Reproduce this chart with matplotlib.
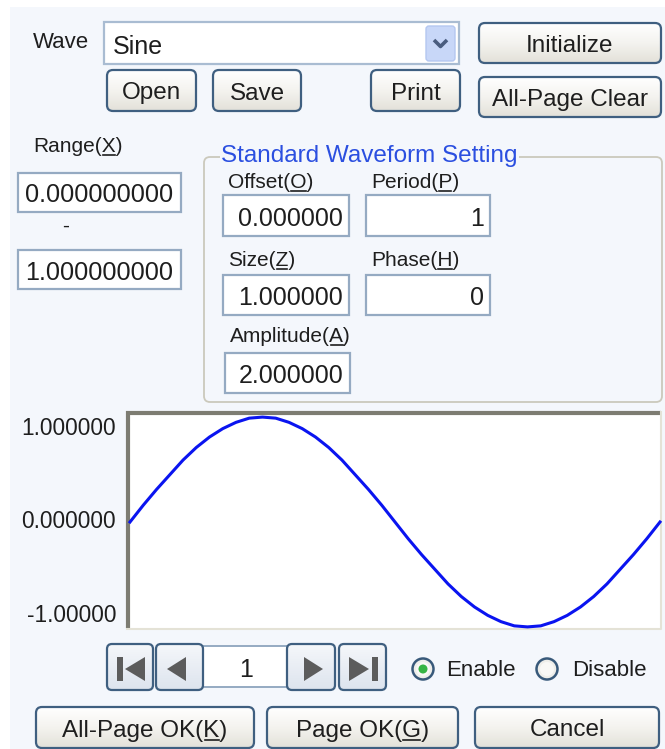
import numpy as np
import matplotlib.pyplot as plt
from matplotlib.patches import FancyBboxPatch, Rectangle, Circle, Polygon
from matplotlib.colors import LinearSegmentedColormap

W, H = 665, 749
FONT = ['Liberation Sans', 'DejaVu Sans']

# ---- dialog contents ----
wave_name = "Sine"
file_buttons = ["Open", "Save", "Print"]
side_buttons = ["Initialize", "All-Page Clear"]
range_label = "Range(X)"
range_values = ["0.000000000", "1.000000000"]
group_title = "Standard Waveform Setting"
field_labels = ["Offset(O)", "Period(P)", "Size(Z)", "Phase(H)", "Amplitude(A)"]
field_values = ["0.000000", "1", "1.000000", "0", "2.000000"]
y_ticks = [1.0, 0.0, -1.0]
y_tick_labels = ["1.000000", "0.000000", "-1.00000"]
wave_y = [0.0, 0.16, 0.31, 0.45, 0.59, 0.71, 0.81, 0.89, 0.95, 0.99,
          1.0, 0.99, 0.95, 0.89, 0.81, 0.71, 0.59, 0.45, 0.31, 0.16,
          0.0, -0.16, -0.31, -0.45, -0.59, -0.71, -0.81, -0.89, -0.95, -0.99,
          -1.0, -0.99, -0.95, -0.89, -0.81, -0.71, -0.59, -0.45, -0.31, -0.16,
          0.0]
wave_x = np.linspace(0.0, 1.0, len(wave_y))
page_number = "1"
radio_labels = ["Enable", "Disable"]
bottom_buttons = ["All-Page OK(K)", "Page OK(G)", "Cancel"]

BG = '#F4F7FC'
TXT = '#1E1E1E'
BOX_EDGE = '#95AAC2'
btn_cmap = LinearSegmentedColormap.from_list('btn', ['#FFFFFF', '#F4F3EF', '#E3E1D9'])
nav_cmap = LinearSegmentedColormap.from_list('nav', ['#F5F7FA', '#DDE4EE'])

fig = plt.figure(figsize=(W / 100, H / 100), dpi=100)
ax = fig.add_axes([0, 0, 1, 1])
ax.axis('off')
ax.set_xlim(0, W)
ax.set_ylim(H, 0)
r = fig.canvas.get_renderer()

ax.add_patch(Rectangle((10, 7), W - 10, H - 7, fc=BG, ec='none', zorder=0))


def label(x, y, s, ha='left', va='center', fs=15, color=TXT, **kw):
    t = ax.text(x, y, s, ha=ha, va=va, fontsize=fs, color=color, family=FONT, zorder=6, **kw)
    # underline the access key, e.g. the X in Range(X)
    if s.endswith(')') and '(' in s:
        i = s.rindex('(') + 1
        bb = t.get_window_extent(r)
        a = ax.text(0, 0, s[:i], fontsize=fs, family=FONT)
        b = ax.text(0, 0, s[:i + 1], fontsize=fs, family=FONT)
        w0 = a.get_window_extent(r).width
        w1 = b.get_window_extent(r).width
        a.remove()
        b.remove()
        uy = H - bb.y0 - 2
        ax.plot([bb.x0 + w0 + 1, bb.x0 + w1 - 1], [uy, uy], color=color, lw=1.2, zorder=6)
    return t


def gradient_box(x0, y0, x1, y1, cmap, ec, rs=6, lw=1.6):
    p = FancyBboxPatch((x0, y0), x1 - x0, y1 - y0, boxstyle=f"round,pad=0,rounding_size={rs}",
                       fc='none', ec='none', zorder=3)
    ax.add_patch(p)
    im = ax.imshow(np.linspace(0, 1, 64).reshape(-1, 1), cmap=cmap, extent=(x0, x1, y1, y0),
                   aspect='auto', zorder=3.1, origin='upper')
    im.set_clip_path(p)
    ax.add_patch(FancyBboxPatch((x0, y0), x1 - x0, y1 - y0, boxstyle=f"round,pad=0,rounding_size={rs}",
                                fc='none', ec=ec, lw=lw, zorder=3.2))


def button(x0, y0, x1, y1, s, fs=17.5):
    gradient_box(x0, y0, x1, y1, btn_cmap, '#3F5F80')
    label((x0 + x1) / 2, (y0 + y1) / 2 + 3, s, ha='center', fs=fs)


def textbox(x0, y0, x1, y1, s, ha='right', fs=18):
    ax.add_patch(Rectangle((x0, y0), x1 - x0, y1 - y0, fc='white', ec=BOX_EDGE, lw=1.6, zorder=2))
    if ha == 'right':
        label(x1 - 6, (y0 + y1) / 2 + 3, s, ha='right', fs=fs)
    else:
        label((x0 + x1) / 2, (y0 + y1) / 2 + 3, s, ha='center', fs=fs)


# ---- top row ----
label(33, 42, "Wave", fs=16)
ax.add_patch(Rectangle((104, 22), 355, 42, fc='white', ec='#A9BCD2', lw=1.6, zorder=2))
ax.add_patch(FancyBboxPatch((426, 26), 29, 35, boxstyle="round,pad=0,rounding_size=3",
                            fc='#C8D7F8', ec='#B4C7F0', lw=1, zorder=3))
ax.plot([434, 440.5, 447], [40, 46.5, 40], color='#4A5D80', lw=2.6, solid_capstyle='butt', zorder=4)
label(113, 47, wave_name, fs=18)

for (x0, x1), s in zip([(107, 196), (213, 301), (371, 460)], file_buttons):
    button(x0, 70, x1, 111, s)
button(479, 23, 661, 63, side_buttons[0])
button(479, 77, 661, 117, side_buttons[1])

# ---- range ----
label(33, 147, range_label, fs=15)
textbox(18, 173, 181, 212, range_values[0], ha='center', fs=18.2)
label(66, 226, "-", ha='center', fs=15)
textbox(18, 250, 181, 289, range_values[1], ha='center', fs=18.2)

# ---- standard waveform group ----
ax.add_patch(FancyBboxPatch((204, 157), 458, 245, boxstyle="round,pad=0,rounding_size=6",
                            fc='none', ec='#CBC9BC', lw=1.3, zorder=2))
label(221, 156, group_title, fs=17.5, color='#2B4FE0',
      bbox=dict(fc=BG, ec='none', pad=1))

field_pos = [(223, 349, 183, 195, 236), (366, 490, 183, 195, 236),
             (223, 349, 261, 275, 315), (366, 490, 261, 275, 315),
             (225, 350, 337, 353, 393)]
for (x0, x1, ly, y0, y1), s, v in zip(field_pos, field_labels, field_values):
    label(x0 + 5, ly, s, fs=15)
    textbox(x0, y0, x1, y1, v)

# ---- waveform preview ----
px0, py0, px1, py1 = 127, 412, 661, 629
ax.add_patch(Rectangle((px0, py0), px1 - px0, py1 - py0, fc='white', ec='none', zorder=1))
ax.plot([px0 + 1, px0 + 1, px1], [py1 - 1, py0 + 1, py0 + 1], color='#7D7C72', lw=3, zorder=5,
        solid_joinstyle='miter', solid_capstyle='butt')
ax.plot([px0, px1, px1], [py1, py1, py0], color='#E4E2D6', lw=1.5, zorder=5)

pax = fig.add_axes([(px0 + 3) / W, (H - py1) / H, (px1 - px0 - 4) / W, (py1 - py0 - 3) / H])
pax.patch.set_alpha(0)
pax.plot(wave_x, wave_y, color='#0A14F0', lw=2.2, clip_on=False)
pax.set_xlim(0, 1)
pax.set_ylim(-1.02, 1.02)
pax.set_xticks([])
pax.set_yticks(y_ticks, y_tick_labels)
pax.tick_params(axis='y', length=0, pad=10, labelsize=16.3, labelcolor=TXT)
for t, va in zip(pax.get_yticklabels(), ['top', 'center', 'bottom']):
    t.set_va(va)
    t.set_family(FONT)
for sp in pax.spines.values():
    sp.set_visible(False)

# ---- page navigation ----
nav = [(107, 153), (156, 203), (287, 335), (339, 386)]
for x0, x1 in nav:
    gradient_box(x0, 644, x1, 690, nav_cmap, '#3F5F80', rs=5)
ax.add_patch(Rectangle((203, 646), 84, 41, fc='white', ec=BOX_EDGE, lw=1.4, zorder=2))
label(246, 670, page_number, ha='center', fs=18)
ic = '#5C5C5C'
ax.add_patch(Rectangle((117, 657), 6, 24, fc=ic, ec='none', zorder=4))
ax.add_patch(Polygon([(125, 669), (145, 657), (145, 681)], fc=ic, ec='none', zorder=4))
ax.add_patch(Polygon([(167, 669), (186, 657), (186, 681)], fc=ic, ec='none', zorder=4))
ax.add_patch(Polygon([(304, 657), (304, 681), (323, 669)], fc=ic, ec='none', zorder=4))
ax.add_patch(Polygon([(349, 657), (349, 681), (369, 669)], fc=ic, ec='none', zorder=4))
ax.add_patch(Rectangle((372, 657), 6, 24, fc=ic, ec='none', zorder=4))

# ---- radio buttons ----
for cx, tx, s, on in zip([423, 547], [446, 572], radio_labels, [True, False]):
    ax.add_patch(Circle((cx, 669), 10.5, fc='#EEEEEA', ec='#38597A', lw=1.8, zorder=4))
    ax.add_patch(Circle((cx, 669), 7, fc='#F8F8F6', ec='none', zorder=4))
    if on:
        ax.add_patch(Circle((cx, 669), 4.5, fc='#36B444', ec='none', zorder=5))
    label(tx, 670, s, fs=16)

# ---- bottom buttons ----
for (x0, x1), s in zip([(36, 254), (267, 458), (475, 659)], bottom_buttons):
    button(x0, 707, x1, 748, s)

ax.set_xlim(0, W)
ax.set_ylim(H, 0)
fig.savefig('out.png', dpi=100, facecolor='white')
